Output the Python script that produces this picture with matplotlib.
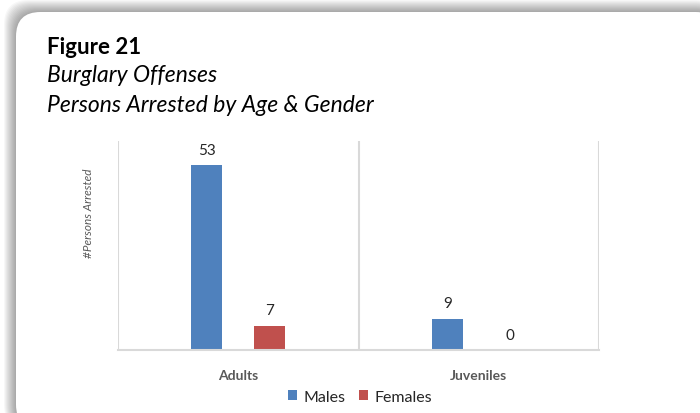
import matplotlib.pyplot as plt
from matplotlib.patches import FancyBboxPatch

plt.rcParams['font.family'] = ['Lato', 'DejaVu Sans']

categories = ['Adults', 'Juveniles']
males = [53, 9]
females = [7, 0]
series_names = ['Males', 'Females']

W, H = 700, 414


def fx(px):
    return px / W


def fy(py):
    return 1 - py / H


fig = plt.figure(figsize=(7, 4.14), dpi=100)
fig.patch.set_facecolor('white')

# shadow + rounded card
for k in range(12, 0, -1):
    shade = FancyBboxPatch((fx(16 - k), fy(430)), fx(720) - fx(16 - k),
                           fy(13 - k) - fy(430),
                           boxstyle='round,pad=0,rounding_size=0.035',
                           transform=fig.transFigure, facecolor='#000000',
                           alpha=0.03, edgecolor='none', mutation_aspect=W / H,
                           zorder=-10)
    fig.patches.append(shade)
card = FancyBboxPatch((fx(16), fy(430)), fx(720) - fx(16), fy(13) - fy(430),
                      boxstyle='round,pad=0,rounding_size=0.035',
                      transform=fig.transFigure, facecolor='white',
                      edgecolor='none', mutation_aspect=W / H, zorder=-9)
fig.patches.append(card)

fig.text(fx(47), fy(47), 'Figure 21', fontsize=16, fontweight='bold',
         va='center', ha='left', color='black')
fig.text(fx(47), fy(76), 'Burglary Offenses', fontsize=16.5, style='italic',
         va='center', ha='left', color='black')
fig.text(fx(47), fy(106), 'Persons Arrested by Age & Gender', fontsize=16.5,
         style='italic', va='center', ha='left', color='black')

ax = fig.add_axes([fx(118), fy(351), fx(599) - fx(118), fy(142) - fy(351)])
ax.set_facecolor('none')

x = list(range(len(categories)))
w = 0.129
off = 0.131
b1 = ax.bar([i - off for i in x], males, width=w, color='#4F81BD', label=series_names[0])
b2 = ax.bar([i + off for i in x], females, width=w, color='#C0504D', label=series_names[1])

for bars, vals in ((b1, males), (b2, females)):
    for rect, v in zip(bars, vals):
        ax.annotate(str(v), (rect.get_x() + rect.get_width() / 2, v),
                    xytext=(0, 6), textcoords='offset points', ha='center',
                    va='bottom', fontsize=11, color='#262626')

ax.set_xlim(-0.5, 1.5)
ax.set_ylim(0, 60)
for gx in (-0.5, 0.5, 1.5):
    ax.axvline(gx, color='#D9D9D9', lw=1.5, zorder=0)
for s in ('top', 'right', 'left'):
    ax.spines[s].set_visible(False)
ax.spines['bottom'].set_color('#D9D9D9')
ax.spines['bottom'].set_linewidth(1.5)
ax.set_yticks([])
ax.set_xticks(x)
ax.set_xticklabels(categories, fontsize=10, fontweight='bold', color='#595959')
ax.tick_params(axis='x', length=0, pad=14)

fig.text(fx(88), fy(213), '#Persons Arrested', rotation=90, fontsize=8.5,
         style='italic', color='#595959', ha='center', va='center')

fig.legend(handles=[b1, b2], loc='center', bbox_to_anchor=(fx(360), fy(398)),
           ncol=2, frameon=False, fontsize=11.5, handlelength=0.6,
           handleheight=0.6, handletextpad=0.4, columnspacing=0.8,
           labelcolor='#262626')

fig.savefig('out.png', dpi=100)
